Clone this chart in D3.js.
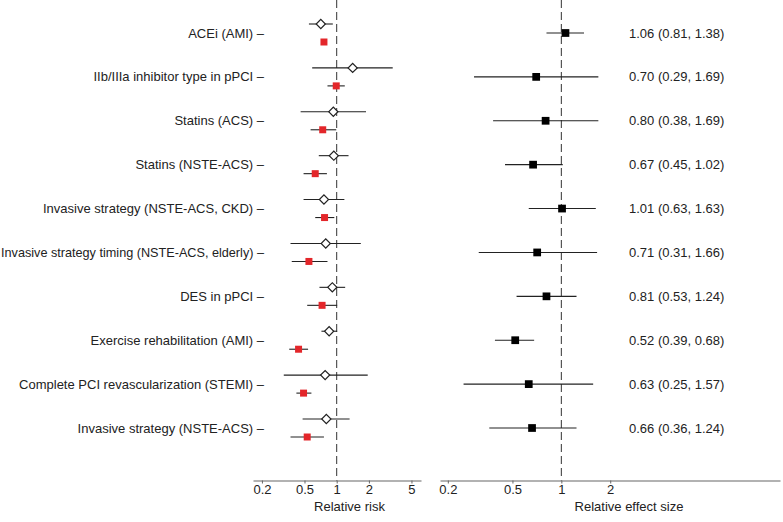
<!DOCTYPE html>
<html>
<head>
<meta charset="utf-8">
<script src="https://cdn.jsdelivr.net/npm/d3@7"></script>
<style>
  html, body { margin: 0; padding: 0; background: #fff; }
  svg { display: block; font-family: "Liberation Sans", Arial, Helvetica, sans-serif; }
</style>
</head>
<body>
<svg id="chart" width="783" height="522"></svg>
<script>
const categories = [
  "ACEi (AMI)",
  "IIb/IIIa inhibitor type in pPCI",
  "Statins (ACS)",
  "Statins (NSTE-ACS)",
  "Invasive strategy (NSTE-ACS, CKD)",
  "Invasive strategy timing (NSTE-ACS, elderly)",
  "DES in pPCI",
  "Exercise rehabilitation (AMI)",
  "Complete PCI revascularization (STEMI)",
  "Invasive strategy (NSTE-ACS)"
];
// Left panel: open diamonds (relative risk, reference estimate)
const diamondEst = [0.71, 1.41, 0.93, 0.94, 0.76, 0.79, 0.91, 0.85, 0.78, 0.80];
const diamondLo  = [0.55, 0.59, 0.46, 0.68, 0.49, 0.37, 0.69, 0.72, 0.32, 0.48];
const diamondHi  = [0.92, 3.34, 1.88, 1.29, 1.18, 1.68, 1.20, 1.01, 1.95, 1.32];
// Left panel: red squares (relative risk, comparison estimate)
const redEst = [0.76, 0.99, 0.74, 0.63, 0.77, 0.55, 0.73, 0.44, 0.49, 0.53];
const redLo  = [0.73, 0.82, 0.57, 0.49, 0.63, 0.38, 0.53, 0.36, 0.42, 0.37];
const redHi  = [0.79, 1.19, 0.99, 0.81, 0.95, 0.82, 1.01, 0.54, 0.58, 0.76];
// Right panel: relative effect size
const effEst = [1.06, 0.70, 0.80, 0.67, 1.01, 0.71, 0.81, 0.52, 0.63, 0.66];
const effLo  = [0.81, 0.29, 0.38, 0.45, 0.63, 0.31, 0.53, 0.39, 0.25, 0.36];
const effHi  = [1.38, 1.69, 1.69, 1.02, 1.63, 1.66, 1.24, 0.68, 1.57, 1.24];
const leftTicks = [0.2, 0.5, 1, 2, 5];
const rightTicks = [0.2, 0.5, 1, 2];
const leftTitle = "Relative risk";
const rightTitle = "Relative effect size";

const svg = d3.select("#chart");
const ink = "#222";
const axisCol = "#666";
const redCol = "#e3262a";

const y = d3.scalePoint().domain(categories).range([33, 428]);
const xL = d3.scaleLog().domain([0.165, 6.14]).range([253, 421]);
const xR = d3.scaleLog().domain([0.179, 22.2]).range([440, 780]);
const axisY = 480.5;
const off = 9;

const fmt = v => v.toFixed(2);

// Row labels
const labelRight = 264;
svg.append("g").selectAll("text").data(categories).join("text")
  .attr("x", labelRight).attr("y", d => y(d)).attr("dy", "0.35em")
  .attr("text-anchor", "end").attr("font-size", 13).attr("fill", ink)
  .text(d => d + " \u2013")
  .each(function() {
    const w = this.getComputedTextLength();
    if (w > labelRight - 1) {
      d3.select(this).attr("textLength", labelRight - 1).attr("lengthAdjust", "spacingAndGlyphs");
    }
  });

// Dashed reference lines
[xL, xR].forEach(sc => {
  svg.append("line")
    .attr("x1", sc(1)).attr("x2", sc(1)).attr("y1", 0).attr("y2", axisY)
    .attr("stroke", "#333").attr("stroke-width", 1).attr("stroke-dasharray", "8,4");
});

// Axes
function drawAxis(sc, ticks, title, titleX) {
  const g = svg.append("g").attr("transform", `translate(0,${axisY})`)
    .call(d3.axisBottom(sc).tickValues(ticks).tickFormat(d3.format("")).tickSize(3).tickSizeOuter(0).tickPadding(1));
  g.select(".domain").attr("stroke", axisCol).attr("stroke-width", 1.2);
  g.selectAll(".tick line").attr("stroke", axisCol);
  g.selectAll(".tick text").attr("font-size", 13).attr("fill", ink)
    .attr("font-family", '"Liberation Sans", Arial, sans-serif');
  svg.append("text").attr("x", titleX).attr("y", 511)
    .attr("text-anchor", "middle").attr("font-size", 13).attr("fill", ink).text(title);
}
drawAxis(xL, leftTicks, leftTitle, 349.5);
drawAxis(xR, rightTicks, rightTitle, 629);

const idx = d3.range(categories.length);

// Left: diamond CIs
svg.append("g").selectAll("line").data(idx).join("line")
  .attr("x1", i => xL(diamondLo[i])).attr("x2", i => xL(diamondHi[i]))
  .attr("y1", i => y(categories[i]) - off).attr("y2", i => y(categories[i]) - off)
  .attr("stroke", ink).attr("stroke-width", 1.1);
svg.append("g").selectAll("path").data(idx).join("path")
  .attr("d", d3.symbol(d3.symbolSquare, 42))
  .attr("transform", i => `translate(${xL(diamondEst[i])},${y(categories[i]) - off}) rotate(45)`)
  .attr("fill", "#fff").attr("stroke", ink).attr("stroke-width", 1.2);

// Left: red CIs and squares
svg.append("g").selectAll("line").data(idx).join("line")
  .attr("x1", i => xL(redLo[i])).attr("x2", i => xL(redHi[i]))
  .attr("y1", i => y(categories[i]) + off).attr("y2", i => y(categories[i]) + off)
  .attr("stroke", ink).attr("stroke-width", 1.1);
svg.append("g").selectAll("path").data(idx).join("path")
  .attr("d", d3.symbol(d3.symbolSquare, 49))
  .attr("transform", i => `translate(${xL(redEst[i])},${y(categories[i]) + off})`)
  .attr("fill", redCol);

// Right: effect sizes
svg.append("g").selectAll("line").data(idx).join("line")
  .attr("x1", i => xR(effLo[i])).attr("x2", i => xR(effHi[i]))
  .attr("y1", i => y(categories[i])).attr("y2", i => y(categories[i]))
  .attr("stroke", ink).attr("stroke-width", 1.1);
svg.append("g").selectAll("path").data(idx).join("path")
  .attr("d", d3.symbol(d3.symbolSquare, 60))
  .attr("transform", i => `translate(${xR(effEst[i])},${y(categories[i])})`)
  .attr("fill", "#000");

// Right: text values
svg.append("g").selectAll("text").data(idx).join("text")
  .attr("x", 629).attr("y", i => y(categories[i])).attr("dy", "0.35em")
  .attr("font-size", 13).attr("fill", ink)
  .text(i => `${fmt(effEst[i])} (${fmt(effLo[i])}, ${fmt(effHi[i])})`);
</script>
</body>
</html>
